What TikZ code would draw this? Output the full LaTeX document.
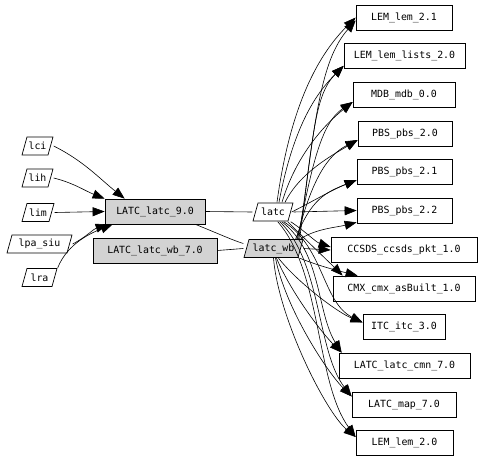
\documentclass[tikz,border=0pt]{standalone}
\usepackage{fontspec}
\setmainfont{DejaVu Sans Mono}
\usetikzlibrary{arrows.meta}
\definecolor{gv}{RGB}{211,211,211}
\begin{document}
\begin{tikzpicture}[x=1pt,y=-1pt,
  font=\fontsize{9.9}{12}\selectfont,
  box/.style={draw, line width=0.7pt, minimum height=25pt, inner sep=0pt},
  gbox/.style={box, fill=gv},
  para/.style={rectangle, inner sep=0pt, minimum height=19pt,
    path picture={\draw[line width=0.7pt, fill=#1]
      ([shift={(5.5pt,-0.5pt)}]path picture bounding box.north west) --
      ([shift={(-0.5pt,-0.5pt)}]path picture bounding box.north east) --
      ([shift={(-5.5pt,0.5pt)}]path picture bounding box.south east) --
      ([shift={(0.5pt,0.5pt)}]path picture bounding box.south west) -- cycle;}},
  para/.default=white,
  conn/.style={line width=0.6pt},
  arr/.style={conn, -{Triangle[length=12pt,width=9pt]}}]
\useasboundingbox (0,0) rectangle (482,460);

% left inputs
\node[para, minimum width=32pt] (lci) at (37.5,146) {lci};
\node[para, minimum width=32pt] (lih) at (37.5,178) {lih};
\node[para, minimum width=33pt] (lim) at (38,212.5) {lim};
\node[para, minimum width=66pt] (lpa) at (39.5,244) {lpa\_siu};
\node[para, minimum width=36pt] (lra) at (39.5,277.5) {lra};

% centre
\node[gbox, minimum width=100pt] (L9) at (155,211.5) {LATC\_latc\_9.0};
\node[gbox, minimum width=124pt] (L7) at (155,250.5) {LATC\_latc\_wb\_7.0};
\node[para, minimum width=41pt] (latc) at (273,212) {latc};
\node[para=gv, minimum width=60pt] (lwb) at (273.5,248.5) {latc\_wb};

% right targets
\node[box, minimum width=96pt]  (t1)  at (404,17.5)  {LEM\_lem\_2.1};
\node[box, minimum width=121pt] (t2)  at (404.5,56)  {LEM\_lem\_lists\_2.0};
\node[box, minimum width=102pt] (t3)  at (404,95)    {MDB\_mdb\_0.0};
\node[box, minimum width=94pt]  (t4)  at (405,134)   {PBS\_pbs\_2.0};
\node[box, minimum width=95pt]  (t5)  at (404.5,172) {PBS\_pbs\_2.1};
\node[box, minimum width=95pt]  (t6)  at (404.5,210.5) {PBS\_pbs\_2.2};
\node[box, minimum width=146pt] (t7)  at (404,250)   {CCSDS\_ccsds\_pkt\_1.0};
\node[box, minimum width=142pt] (t8)  at (404,288.5) {CMX\_cmx\_asBuilt\_1.0};
\node[box, minimum width=82pt]  (t9)  at (404,326.5) {ITC\_itc\_3.0};
\node[box, minimum width=131pt] (t10) at (404.5,365.5) {LATC\_latc\_cmn\_7.0};
\node[box, minimum width=104pt] (t11) at (404,404.5) {LATC\_map\_7.0};
\node[box, minimum width=97pt]  (t12) at (404.5,443) {LEM\_lem\_2.0};

% left edges
\draw[arr] (lci.east) .. controls +(30,15) and +(-25,-20) .. ([xshift=20pt]L9.north west);
\draw[arr] (lih.east) .. controls +(20,5) and +(-20,-8) .. (L9.north west);
\draw[arr] (lim.east) -- (L9.west);
\draw[arr] (lpa.east) .. controls +(15,-8) and +(-15,5) .. ([xshift=3pt]L9.south west);
\draw[arr] (lra.north east) .. controls +(10,-25) and +(-20,8) .. ([xshift=8pt]L9.south west);

% middle
\draw[conn] (L9.east) -- (latc.west);
\draw[conn] ([xshift=-10pt]L9.south east) .. controls +(20,8) and +(-10,-3) .. ([yshift=5pt]lwb.west);
\draw[conn] (L7.east) -- (lwb.west);

% latc -> targets
\draw[arr] ([xshift=4pt]latc.north) .. controls +(15,-110) and +(-30,30) .. (t1.west);
\draw[arr] ([xshift=6pt]latc.north) .. controls +(15,-80) and +(-25,25) .. ([yshift=3pt]t2.south west);
\draw[arr] ([xshift=9pt]latc.north) .. controls +(15,-50) and +(-25,20) .. ([yshift=-7pt]t3.west);
\draw[arr] ([xshift=12pt]latc.north) .. controls +(15,-30) and +(-25,15) .. ([yshift=-6pt]t4.west);
\draw[arr] ([xshift=-2pt]latc.east) .. controls +(20,-10) and +(-25,10) .. ([yshift=-8pt]t5.west);
\draw[arr] (latc.east) -- (t6.west);
\draw[arr] ([xshift=-3pt]latc.south east) .. controls +(15,10) and +(-15,-5) .. ([yshift=3pt]t7.west);
\draw[arr] ([xshift=-6pt]latc.south east) .. controls +(25,25) and +(-15,-15) .. ([xshift=10pt]t8.north west);
\draw[arr] ([xshift=-10pt]latc.south east) .. controls +(40,25) and +(-40,-20) .. ([yshift=4pt]t9.west);
\draw[arr] ([xshift=-12pt]latc.south east) .. controls +(40,30) and +(-25,-40) .. ([xshift=3pt]t10.north west);
\draw[arr] ([xshift=-14pt]latc.south east) .. controls +(42,40) and +(-35,-45) .. ([yshift=8pt]t11.west);
\draw[arr] ([xshift=-16pt]latc.south east) .. controls +(44,50) and +(-40,-55) .. ([yshift=6pt]t12.west);

% latc_wb -> targets
\draw[arr] ([xshift=-4pt]lwb.north east) .. controls +(15,-120) and +(-35,40) .. ([yshift=-3pt]t1.west);
\draw[arr] ([xshift=-5pt]lwb.north east) .. controls +(15,-100) and +(-30,30) .. ([yshift=3pt]t2.south west);
\draw[arr] ([xshift=-6pt]lwb.north east) .. controls +(15,-80) and +(-30,20) .. ([yshift=-7pt]t3.west);
\draw[arr] ([xshift=-7pt]lwb.north east) .. controls +(15,-60) and +(-30,15) .. ([yshift=-6pt]t4.west);
\draw[arr] ([xshift=-8pt]lwb.north east) .. controls +(15,-40) and +(-30,12) .. ([yshift=-8pt]t5.west);
\draw[arr] ([xshift=-3pt]lwb.north east) .. controls +(15,-10) and +(-20,5) .. ([yshift=1pt]t6.south west);
\draw[arr] (lwb.east) -- (t7.west);
\draw[arr] ([xshift=-4pt]lwb.south east) .. controls +(20,8) and +(-20,-5) .. ([xshift=25pt]t8.north west);
\draw[arr] ([xshift=5pt]lwb.south) .. controls +(20,25) and +(-25,-10) .. ([yshift=4pt]t9.west);
\draw[arr] ([xshift=3pt]lwb.south) .. controls +(15,35) and +(-20,-20) .. ([xshift=3pt]t10.north west);
\draw[arr] ([xshift=2pt]lwb.south) .. controls +(10,50) and +(-25,-25) .. ([yshift=8pt]t11.west);
\draw[arr] (lwb.south) .. controls +(5,60) and +(-30,-25) .. ([yshift=6pt]t12.west);
\end{tikzpicture}
\end{document}
